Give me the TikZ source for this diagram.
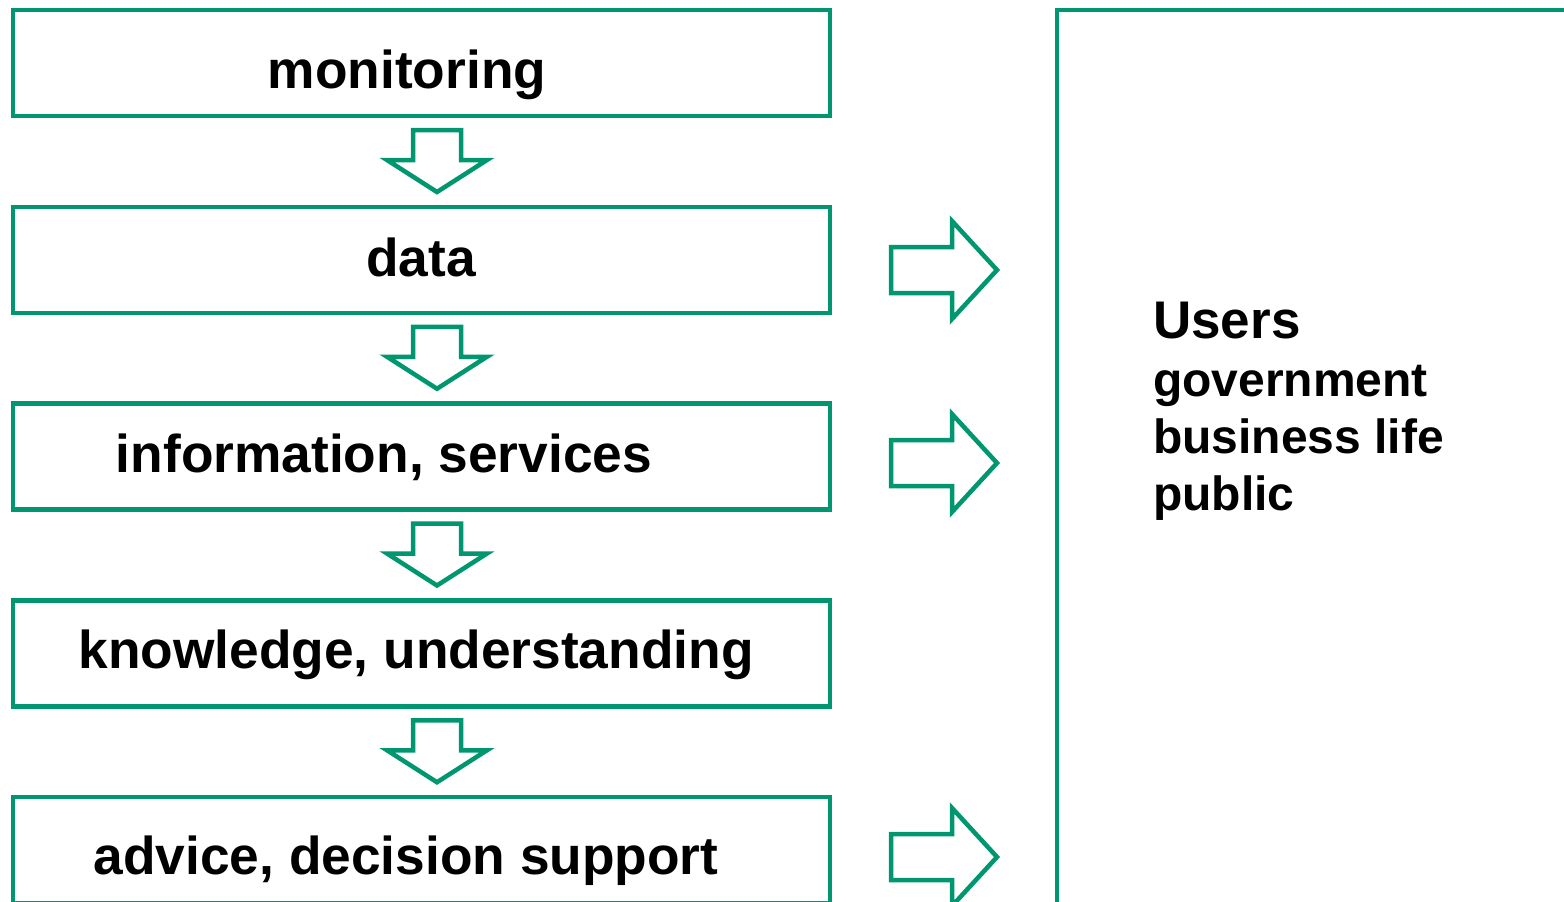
\documentclass[tikz,border=0pt]{standalone}
\usepackage{fontspec}
\setmainfont{Liberation Sans}
\definecolor{leaf}{RGB}{0,150,112}
\begin{document}
\begin{tikzpicture}[x=1pt,y=-1pt,
  frame/.style={draw=leaf,line width=4.5pt},
  blockarrow/.style={draw=leaf,line width=4.5pt,line join=miter,fill=white},
  label/.style={anchor=base,inner sep=0pt,font=\fontsize{53.3}{57}\selectfont\bfseries},
  usertitle/.style={anchor=base west,inner sep=0pt,font=\fontsize{53}{57}\selectfont\bfseries},
  useritem/.style={anchor=base west,inner sep=0pt,font=\fontsize{48}{57}\selectfont\bfseries}]
\useasboundingbox (0,0) rectangle (1564,902);
\clip (0,0) rectangle (1564,902);
% stages of the chain
\foreach \i/\t/\c/\y in {1/monitoring/407/88, 2/data/421/276, 3/{information, services}/384/472,
                        4/{knowledge, understanding}/416/668, 5/{advice, decision support}/406/874}{
  \pgfmathsetmacro{\top}{10+196.75*(\i-1)}
  \draw[frame] (13,\top) rectangle (830,\top+106);
  \node[label] (s\i) at (\c,\y) {\t};
}
% downward block arrows between stages
\foreach \i in {1,2,3,4}{
  \pgfmathsetmacro{\ya}{130+196.75*(\i-1)}
  \draw[blockarrow] (413,\ya) -- (461,\ya) -- (461,\ya+30) -- (487,\ya+30) -- (437,\ya+62)
     -- (387,\ya+30) -- (413,\ya+30) -- cycle;
}
% arrows to the users
\foreach \yc in {270,463,857}{
  \draw[blockarrow] (891,\yc-23) -- (952,\yc-23) -- (952,\yc-49) -- (997,\yc) -- (952,\yc+49)
     -- (952,\yc+23) -- (891,\yc+23) -- cycle;
}
% users
\draw[frame] (1057,10) rectangle (1600,950);
\node[usertitle] (users) at (1153,338) {Users};
\node[useritem] (gov) at ([yshift=-58pt]users.base west) {government};
\node[useritem] (bus) at ([yshift=-57pt]gov.base west) {business life};
\node[useritem] (pub) at ([yshift=-57pt]bus.base west) {public};
\end{tikzpicture}
\end{document}
